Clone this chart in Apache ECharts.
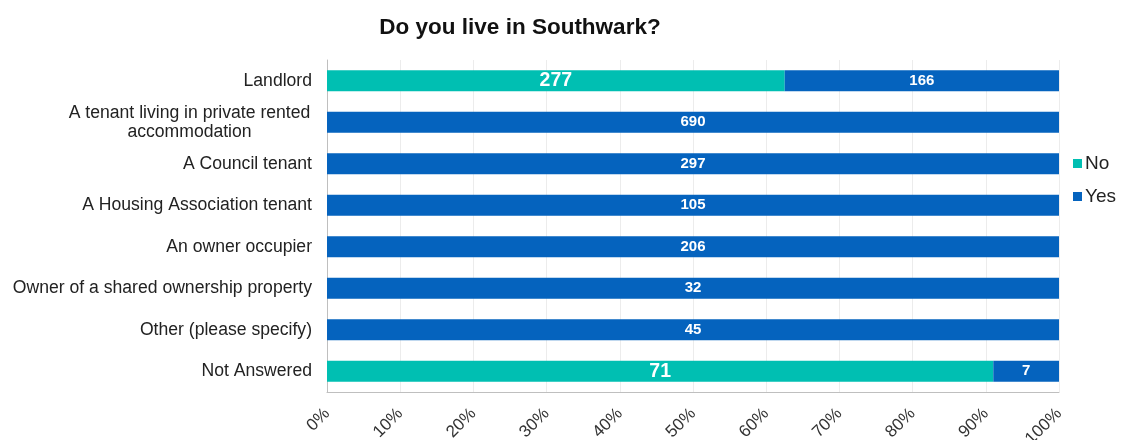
<!DOCTYPE html>
<html>
<head>
<meta charset="utf-8">
<script src="https://cdn.jsdelivr.net/npm/echarts@6/dist/echarts.min.js"></script>
<style>
  html, body { margin: 0; padding: 0; background: #fff; }
  #chart { width: 1123px; height: 440px; }
</style>
</head>
<body>
<div id="chart"></div>
<script>
const categories = [
  "Landlord",
  "A tenant living in private rented\naccommodation",
  "A Council tenant",
  "A Housing Association tenant",
  "An owner occupier",
  "Owner of a shared ownership property",
  "Other (please specify)",
  "Not Answered"
];
const noCounts = [277, 0, 0, 0, 0, 0, 0, 71];
const yesCounts = [166, 690, 297, 105, 206, 32, 45, 7];
const tickLabels = ["0%", "10%", "20%", "30%", "40%", "50%", "60%", "70%", "80%", "90%", "100%"];

const totals = noCounts.map((n, i) => n + yesCounts[i]);
const share = (arr) => arr.map((v, i) => ({ value: totals[i] ? (v / totals[i]) * 100 : 0, count: v }));

const chart = echarts.init(document.getElementById("chart"));
chart.setOption({
  animation: false,
  textStyle: { fontFamily: "Liberation Sans, Arial, sans-serif" },
  title: {
    text: "Do you live in Southwark?",
    left: 515,
    textAlign: "center",
    top: 11,
    textStyle: { fontSize: 22.5, fontWeight: "bold", color: "#111" }
  },
  legend: {
    orient: "vertical",
    left: 1068,
    top: 149,
    itemWidth: 9,
    itemHeight: 9,
    itemGap: 14,
    icon: "rect",
    textStyle: { fontSize: 19, color: "#222", padding: [0, 0, 0, -2] },
    data: ["No", "Yes"]
  },
  grid: { left: 327, right: 64, top: 60, bottom: 48, containLabel: false, outerBoundsMode: "none" },
  xAxis: {
    type: "value",
    min: 0,
    max: 100,
    interval: 10,
    axisLine: { show: true, lineStyle: { color: "#bfbfbf", width: 1 } },
    axisTick: { show: false },
    splitLine: { show: true, lineStyle: { color: "#ececec", width: 1 } },
    axisLabel: {
      rotate: 45,
      fontSize: 17,
      color: "#333",
      margin: 19,
      formatter: (v) => tickLabels[Math.round(v / 10)]
    }
  },
  yAxis: {
    type: "category",
    inverse: true,
    data: categories,
    axisLine: { show: true, lineStyle: { color: "#bfbfbf", width: 1 } },
    axisTick: { show: false },
    axisLabel: {
      fontSize: 17.6,
      color: "#222",
      margin: 15,
      lineHeight: 19,
      formatter: (v) => v.indexOf("\n") >= 0
        ? v.split("\n").map((s) => "{c|" + s + "}").join("\n")
        : v,
      rich: { c: { width: 245, align: "center", fontSize: 17.6, color: "#222", lineHeight: 19 } }
    }
  },
  series: [
    {
      name: "No",
      type: "bar",
      stack: "total",
      barWidth: 21,
      itemStyle: { color: "#00BFB2" },
      label: {
        show: true,
        position: "inside",
        color: "#fff",
        fontWeight: "bold",
        fontSize: 19.5,
        formatter: (p) => (p.data.count ? p.data.count : "")
      },
      data: share(noCounts)
    },
    {
      name: "Yes",
      type: "bar",
      stack: "total",
      barWidth: 21,
      itemStyle: { color: "#0563BE" },
      label: {
        show: true,
        position: "inside",
        color: "#fff",
        fontWeight: "bold",
        fontSize: 15,
        formatter: (p) => (p.data.count ? p.data.count : "")
      },
      data: share(yesCounts)
    }
  ]
});
</script>
</body>
</html>
